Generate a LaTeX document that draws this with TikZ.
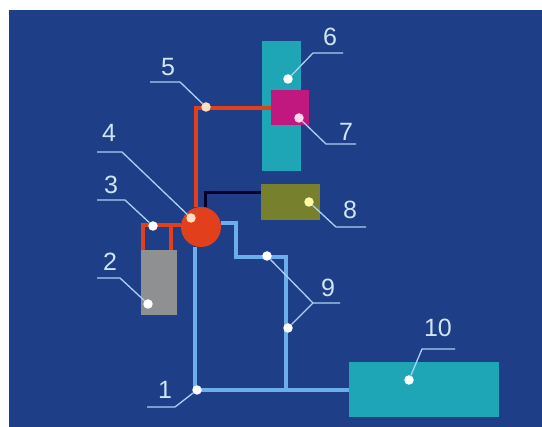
\documentclass[tikz,border=0pt]{standalone}
\usepackage{fontspec}
\setmainfont{Liberation Sans}
\definecolor{bgblue}{HTML}{1E3F88}
\definecolor{teal6}{HTML}{1FA6B6}
\definecolor{mag7}{HTML}{C0187F}
\definecolor{olive8}{HTML}{77802C}
\definecolor{grey2}{HTML}{8E9092}
\definecolor{redp}{HTML}{E2401C}
\definecolor{bluep}{HTML}{6BAEEA}
\definecolor{leader}{HTML}{A9D2F2}
\definecolor{numc}{HTML}{CFE4F4}
\tikzset{
  box/.style={draw=none,inner sep=0pt,outer sep=0pt,minimum width=#1},
  redpipe/.style={draw=redp,line width=4.8pt,line join=miter},
  bluepipe/.style={draw=bluep,line width=4pt,line join=miter},
  lead/.style={draw=leader,line width=1.3pt},
  pt/.style={circle,fill=#1,draw=none,inner sep=0pt,minimum size=9.5pt},
  pt/.default=white,
  num/.style={text=numc,font=\fontsize{25}{25}\selectfont,inner sep=0pt}
}
\begin{document}
\begin{tikzpicture}[x=1pt,y=-1pt]
\useasboundingbox (0,0) rectangle (542,427);
\fill[white] (0,0) rectangle (542,427);
\fill[bgblue] (9,10) rectangle (542,427);
% units
\node[box=39pt,minimum height=130pt,fill=teal6] (u6) at (281.5,106) {};
\node[box=38pt,minimum height=35pt,fill=mag7] (u7) at (290,107.5) {};
\node[box=59pt,minimum height=36pt,fill=olive8] (u8) at (290.5,202) {};
\node[box=36pt,minimum height=65pt,fill=grey2] (u2) at (159,282.5) {};
\node[box=150pt,minimum height=55pt,fill=teal6] (u10) at (424,389.5) {};
\node[circle,fill=redp,inner sep=0pt,minimum size=40pt] (u4) at (201,227) {};
% junctions
\coordinate (r1) at (196,108);
\coordinate (r2) at (143,225);
\coordinate (r3) at (171,225);
\coordinate (k1) at (205,193);
\coordinate (b1) at (195,390);
\coordinate (b2) at (236,223);
\coordinate (b3) at (236,257);
\coordinate (b4) at (286,257);
\coordinate (b5) at (286,390);
% red pipes
\draw[redpipe] (r1 |- u4.north) -- (r1) -- (r1 -| u7.west);
\draw[redpipe] (r2 |- u2.north) -- (r2) -- (r2 -| u4.west);
\draw[redpipe] (r3 |- u2.north) -- (r3);
% black line
\draw[black!85!blue,line width=3pt] (k1 |- u4.north) -- (k1) -- (k1 -| u8.west);
% blue pipes
\draw[bluepipe] (b1 |- u4.south) -- (b1) -- (b1 -| u10.west);
\draw[bluepipe] (b2 -| u4.east) -- (b2) -- (b3) -- (b4) -- (b5);
% markers
\node[pt] (d1) at (197,390) {};
\node[pt] (d2) at (148,304) {};
\node[pt] (d3) at (153,226) {};
\node[pt={orange!25!white}] (d4) at (191,218) {};
\node[pt={orange!25!white}] (d5) at (206,107) {};
\node[pt] (d6) at (288,79) {};
\node[pt={magenta!15!white}] (d7) at (299,118) {};
\node[pt={yellow!35!white}] (d8) at (309,202) {};
\node[pt] (d9a) at (267,256) {};
\node[pt] (d9b) at (288,328) {};
\node[pt] (d10) at (409,380) {};
% leader ends
\coordinate (l1a) at (175,407); \coordinate (l1b) at (147,407);
\coordinate (l2a) at (120,278); \coordinate (l2b) at (97,278);
\coordinate (l3a) at (125,200); \coordinate (l3b) at (97,200);
\coordinate (l4a) at (122,152); \coordinate (l4b) at (97,152);
\coordinate (l5a) at (180,82);  \coordinate (l5b) at (150,82);
\coordinate (l6a) at (313,53);  \coordinate (l6b) at (343,53);
\coordinate (l7a) at (326,144); \coordinate (l7b) at (356,144);
\coordinate (l8a) at (336,227); \coordinate (l8b) at (366,227);
\coordinate (l9a) at (313,303); \coordinate (l9b) at (340,303);
\coordinate (l10a) at (422,349); \coordinate (l10b) at (455,349);
\draw[lead] (d1) -- (l1a) -- (l1b);
\draw[lead] (d2) -- (l2a) -- (l2b);
\draw[lead] (d3) -- (l3a) -- (l3b);
\draw[lead] (d4) -- (l4a) -- (l4b);
\draw[lead] (d5) -- (l5a) -- (l5b);
\draw[lead] (d6) -- (l6a) -- (l6b);
\draw[lead] (d7) -- (l7a) -- (l7b);
\draw[lead] (d8) -- (l8a) -- (l8b);
\draw[lead] (d9a) -- (l9a) -- (l9b);
\draw[lead] (d9b) -- (l9a);
\draw[lead] (d10) -- (l10a) -- (l10b);
% numbers
\node[num] (n1) at (165,390) {1};
\node[num] (n2) at (110,262) {2};
\node[num] (n3) at (111,185) {3};
\node[num] (n4) at (109,133) {4};
\node[num] (n5) at (168,67) {5};
\node[num] (n6) at (330,37) {6};
\node[num] (n7) at (346,132) {7};
\node[num] (n8) at (350,210) {8};
\node[num] (n9) at (328,288) {9};
\node[num] (n10) at (438,328) {10};
\end{tikzpicture}
\end{document}
